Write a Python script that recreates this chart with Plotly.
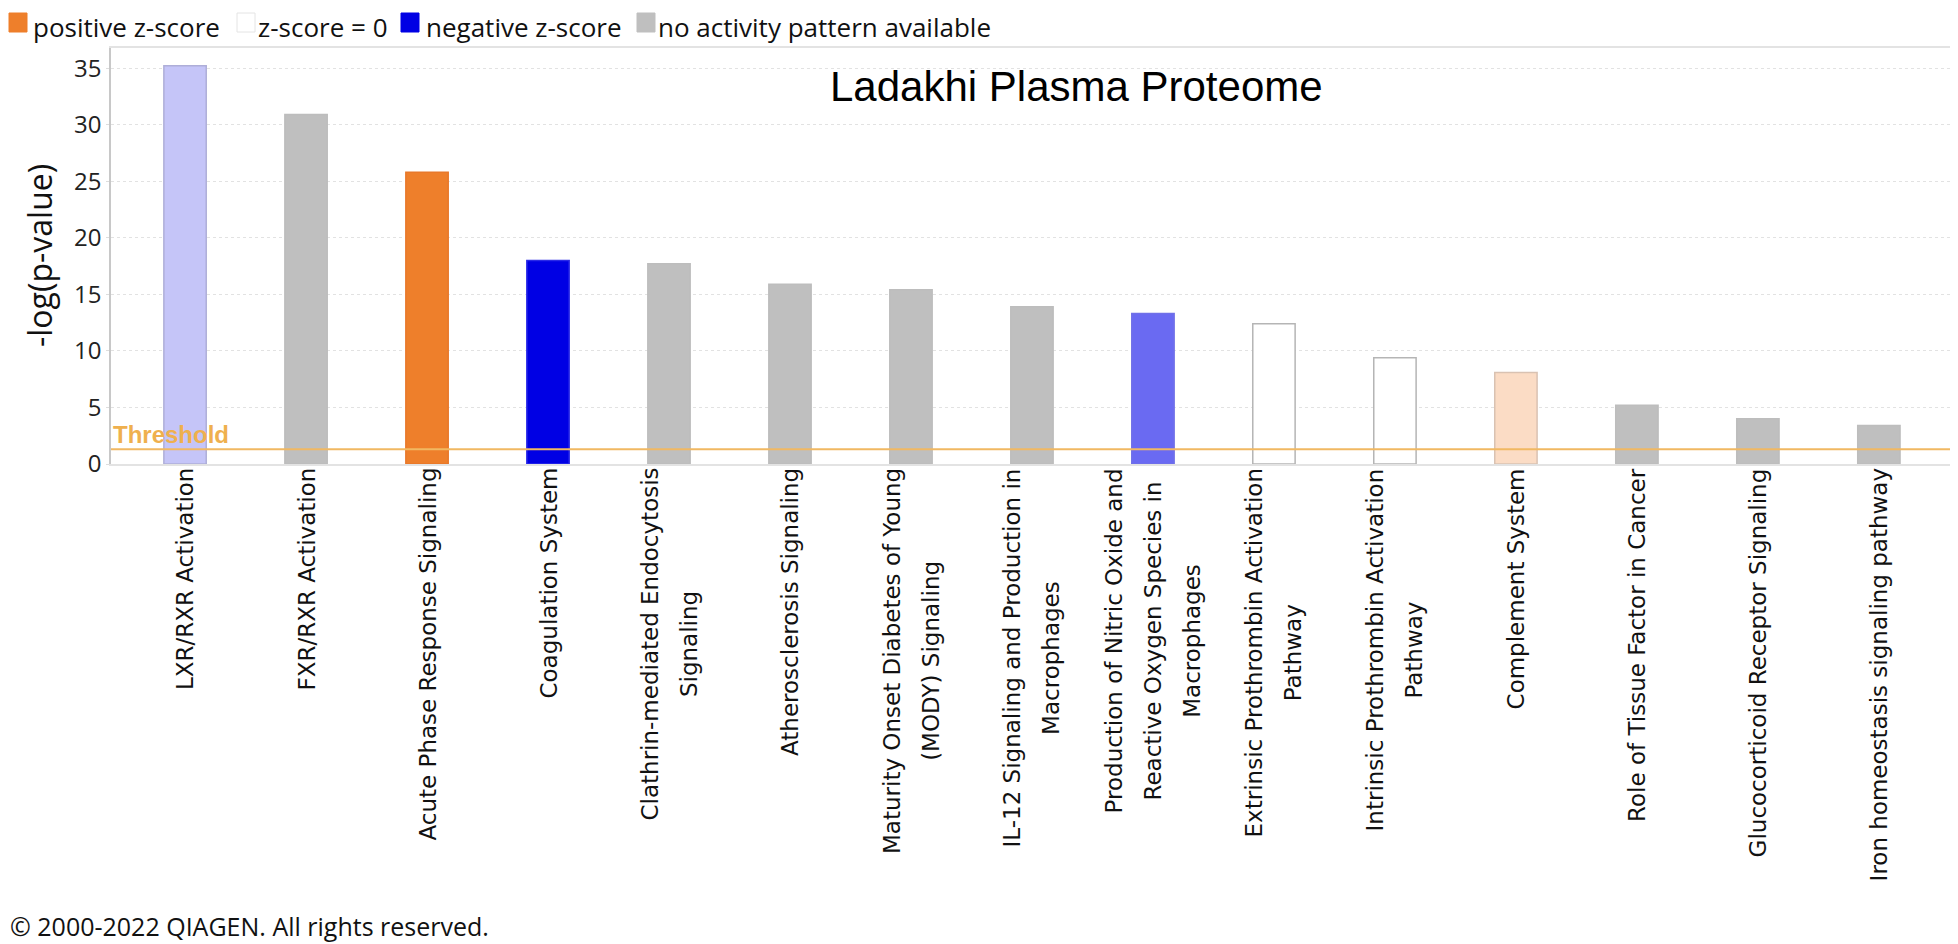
"""
IPA canonical pathways - Ladakhi Plasma Proteome
"""
import plotly.graph_objects as go

# Datos
pathways = [
    "LXR/RXR Activation",
    "FXR/RXR Activation",
    "Acute Phase Response Signaling",
    "Coagulation System",
    "Clathrin-mediated Endocytosis<br>Signaling",
    "Atherosclerosis Signaling",
    "Maturity Onset Diabetes of Young<br>(MODY) Signaling",
    "IL-12 Signaling and Production in<br>Macrophages",
    "Production of Nitric Oxide and<br>Reactive Oxygen Species in<br>Macrophages",
    "Extrinsic Prothrombin Activation<br>Pathway",
    "Intrinsic Prothrombin Activation<br>Pathway",
    "Complement System",
    "Role of Tissue Factor in Cancer",
    "Glucocorticoid Receptor Signaling",
    "Iron homeostasis signaling pathway",
]
neglog_p = [35.2, 30.9, 25.8, 18.0, 17.7, 15.9, 15.4, 13.9, 13.3, 12.4, 9.4, 8.1, 5.2, 4.0, 3.4]
zscore_class = ["neg_weak", "na", "pos", "neg", "na", "na", "na", "na", "neg_mid",
                "zero", "zero", "pos_weak", "na", "na", "na"]
threshold = 1.3

legend_labels = ["positive z-score", "z-score = 0", "negative z-score", "no activity pattern available"]
legend_classes = ["pos", "zero", "neg", "na"]

# Estilos
fill_colors = {
    "pos": "#ee7f2b", "pos_weak": "#fbdcc5", "zero": "#ffffff",
    "neg": "#0000e4", "neg_mid": "#6a6af2", "neg_weak": "#c5c5f8", "na": "#bfbfbf",
}
edge_colors = {
    "pos": "#e8782a", "pos_weak": "#d9c2b2", "zero": "#b5b5b5",
    "neg": "#2a2ae8", "neg_mid": "#7070e8", "neg_weak": "#aeaed8", "na": "#bdbdbd",
}

PLOT_L, PLOT_R, PLOT_T, PLOT_B = 103, 1958, 40, 456
W, H = 1958, 944


def px_x(p):
    return (p - PLOT_L) / (PLOT_R - PLOT_L)


def px_y(p):
    return (PLOT_B - p) / (PLOT_B - PLOT_T)


short_names = [p.replace("<br>", " ") for p in pathways]

fig = go.Figure()
fig.add_trace(go.Bar(
    x=short_names,
    y=neglog_p,
    width=0.35,
    marker=dict(
        color=[fill_colors[c] for c in zscore_class],
        line=dict(color=[edge_colors[c] for c in zscore_class], width=1.5),
    ),
    showlegend=False,
    hovertemplate="%{x}<br>%{y}<extra></extra>",
))

# Linea de umbral
fig.add_shape(type="line", xref="paper", yref="y", x0=0, x1=1, y0=threshold, y1=threshold,
              line=dict(color="#f1b862", width=2), layer="above")
fig.add_annotation(text="<b>Threshold</b>", xref="paper", yref="y", x=0, y=threshold,
                   xanchor="left", yanchor="bottom", showarrow=False, xshift=0, yshift=-1,
                   font=dict(family="Liberation Sans", size=24, color="#efb04e"))

# Titulo
fig.add_annotation(text="Ladakhi Plasma Proteome", xref="paper", yref="paper",
                   x=px_x(1068), y=px_y(78), xanchor="center", yanchor="middle", showarrow=False,
                   font=dict(family="Liberation Sans", size=42, color="black"))

# Etiquetas del eje x (rotadas, lineas centradas)
for name, label in zip(short_names, pathways):
    lines = label.split("<br>")
    txt = "<br>".join(f"<span style='font-size:23px'>{ln}</span>" for ln in lines)
    fig.add_annotation(text=txt, x=name, xref="x", y=0, yref="paper",
                       textangle=-90, xanchor="center", yanchor="top", align="center",
                       showarrow=False, yshift=-2,
                       font=dict(family="DejaVu Sans", size=30, color="#111111"))

# Titulo eje y
fig.add_annotation(text="-log(p-value)", xref="paper", yref="paper", x=px_x(31), y=px_y(248),
                   textangle=-90, xanchor="center", yanchor="middle", showarrow=False,
                   font=dict(family="Open Sans", size=32, color="#111111"))

# Leyenda
legend_sq_x = [1, 229, 393, 629]
legend_txt_x = [24, 249, 417, 649]
for lab, cls, sx, tx in zip(legend_labels, legend_classes, legend_sq_x, legend_txt_x):
    fig.add_shape(type="rect", xref="paper", yref="paper",
                  x0=px_x(sx), x1=px_x(sx + 18), y0=px_y(24), y1=px_y(5),
                  fillcolor=fill_colors[cls],
                  line=dict(color="#e4e4e4" if cls == "zero" else fill_colors[cls], width=1))
    fig.add_annotation(text=lab, xref="paper", yref="paper", x=px_x(tx), y=px_y(0),
                       xanchor="left", yanchor="top", showarrow=False, borderpad=0,
                       font=dict(family="Open Sans", size=26, color="#111111"))

# Copyright
fig.add_annotation(text="© 2000-2022 QIAGEN. All rights reserved.", xref="paper", yref="paper",
                   x=px_x(0), y=px_y(918), xanchor="left", yanchor="middle", showarrow=False,
                   font=dict(family="Open Sans", size=25, color="#111111"))

fig.update_layout(
    width=W, height=H,
    margin=dict(l=PLOT_L, r=W - PLOT_R, t=PLOT_T, b=H - PLOT_B, autoexpand=False),
    plot_bgcolor="white", paper_bgcolor="white",
    xaxis=dict(
        type="category", range=[-0.612, 14.72], showticklabels=False, ticks="",
        showgrid=False, showline=True, linecolor="#e3e3e3", linewidth=2, mirror=True,
    ),
    yaxis=dict(
        range=[0, 36.78], dtick=5, tick0=0, showgrid=True, gridcolor="#e2e2e2",
        griddash="dot", gridwidth=1, zeroline=False, showline=True, linecolor="#c8c8c8",
        linewidth=1.5, ticks="outside", ticklen=3, tickcolor="#dddddd",
        tickfont=dict(family="Open Sans", size=24, color="#222222"),
    ),
)

fig.write_html("out.html")
